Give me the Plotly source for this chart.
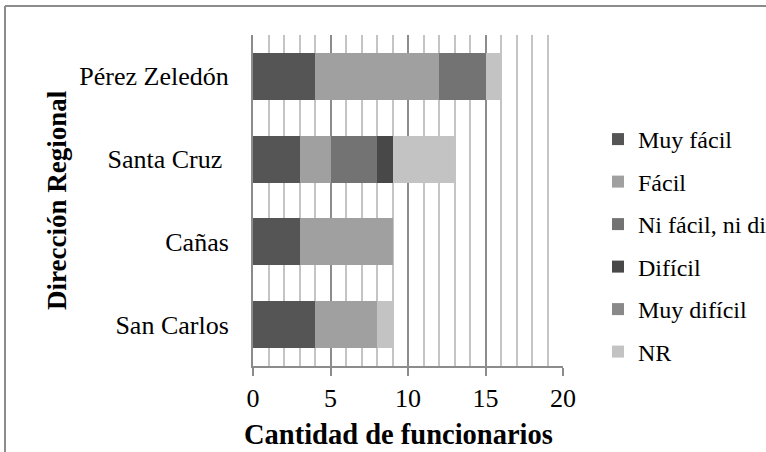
import plotly.graph_objects as go

categories = ["San Carlos", "Cañas", "Santa Cruz\u00a0", "Pérez Zeledón"]
series_names = ["Muy fácil", "Fácil", "Ni fácil, ni difícil", "Difícil", "Muy difícil", "NR"]
muy_facil = [4, 3, 3, 4]
facil = [4, 6, 2, 8]
ni_facil = [0, 0, 3, 3]
dificil = [0, 0, 1, 0]
muy_dificil = [0, 0, 0, 0]
nr = [1, 0, 4, 1]
x_ticks = [0, 5, 10, 15, 20]

series_values = [muy_facil, facil, ni_facil, dificil, muy_dificil, nr]
colors = ["#555555", "#a0a0a0", "#737373", "#484848", "#898989", "#c3c3c3"]

FONT = "Liberation Serif"
W, H = 766, 452
L, R, T, B = 253, 203, 35, 86
pw, ph = W - L - R, H - T - B

fig = go.Figure()
for name, vals, col in zip(series_names, series_values, colors):
    fig.add_trace(go.Bar(
        y=categories, x=vals, name=name, orientation="h",
        marker=dict(color=col, line=dict(width=0)),
        legendgroup=name,
    ))

def px_x(v):
    return (v - L) / pw

def px_y(v):
    return 1 - (v - T) / ph

fig.update_layout(
    width=W, height=H,
    margin=dict(l=L, r=R, t=T, b=B, autoexpand=False),
    barmode="stack", bargap=0.43,
    plot_bgcolor="white", paper_bgcolor="white",
    font=dict(family=FONT, size=24, color="black"),
    legend=dict(
        x=px_x(598), y=px_y(117), xanchor="left", yanchor="top",
        traceorder="grouped", tracegroupgap=8.3,
        font=dict(family=FONT, size=24, color="black"),
        bgcolor="rgba(0,0,0,0)",
    ),
    xaxis=dict(
        range=[0, 20], tickvals=x_ticks, ticktext=[str(t) for t in x_ticks],
        showgrid=True, gridcolor="#8c8c8c", gridwidth=1.5,
        minor=dict(dtick=1, showgrid=True, gridcolor="#c4c4c4", gridwidth=1.5, ticks=""),
        showline=True, linecolor="#8c8c8c", linewidth=2,
        ticks="outside", ticklen=8, tickcolor="#8c8c8c", tickwidth=1.5,
        zeroline=False, fixedrange=True,
        tickfont=dict(family=FONT, size=26),
    ),
    yaxis=dict(
        showgrid=False, showline=True, linecolor="#8c8c8c", linewidth=2,
        ticks="", ticklabelstandoff=17, fixedrange=True,
        tickfont=dict(family=FONT, size=26),
        range=[-0.5, 3.5],
    ),
    annotations=[
        dict(text="<b>Cantidad de funcionarios</b>", xref="paper", yref="paper",
             x=px_x(398), y=px_y(434), xanchor="center", yanchor="middle",
             showarrow=False, font=dict(family=FONT, size=28.5, color="black")),
        dict(text="<b>Dirección Regional</b>", xref="paper", yref="paper",
             x=px_x(57), y=px_y(200), xanchor="center", yanchor="middle", textangle=-90,
             showarrow=False, font=dict(family=FONT, size=27, color="black")),
    ],
    shapes=[
        dict(type="line", xref="paper", yref="paper", x0=px_x(5), y0=px_y(6), x1=px_x(770), y1=px_y(6),
             line=dict(color="#8c8c8c", width=2)),
        dict(type="line", xref="paper", yref="paper", x0=px_x(5), y0=px_y(6), x1=px_x(5), y1=px_y(460),
             line=dict(color="#8c8c8c", width=2)),
    ],
)

post = (
    "document.body.style.margin='0';document.body.style.overflow='hidden';"
    "document.querySelectorAll('.legendtext').forEach(function(e){"
    "e.style.fontFamily='\"Liberation Serif\", serif';});"
)
fig.write_html("out.html", config={"displayModeBar": False}, post_script=post)
